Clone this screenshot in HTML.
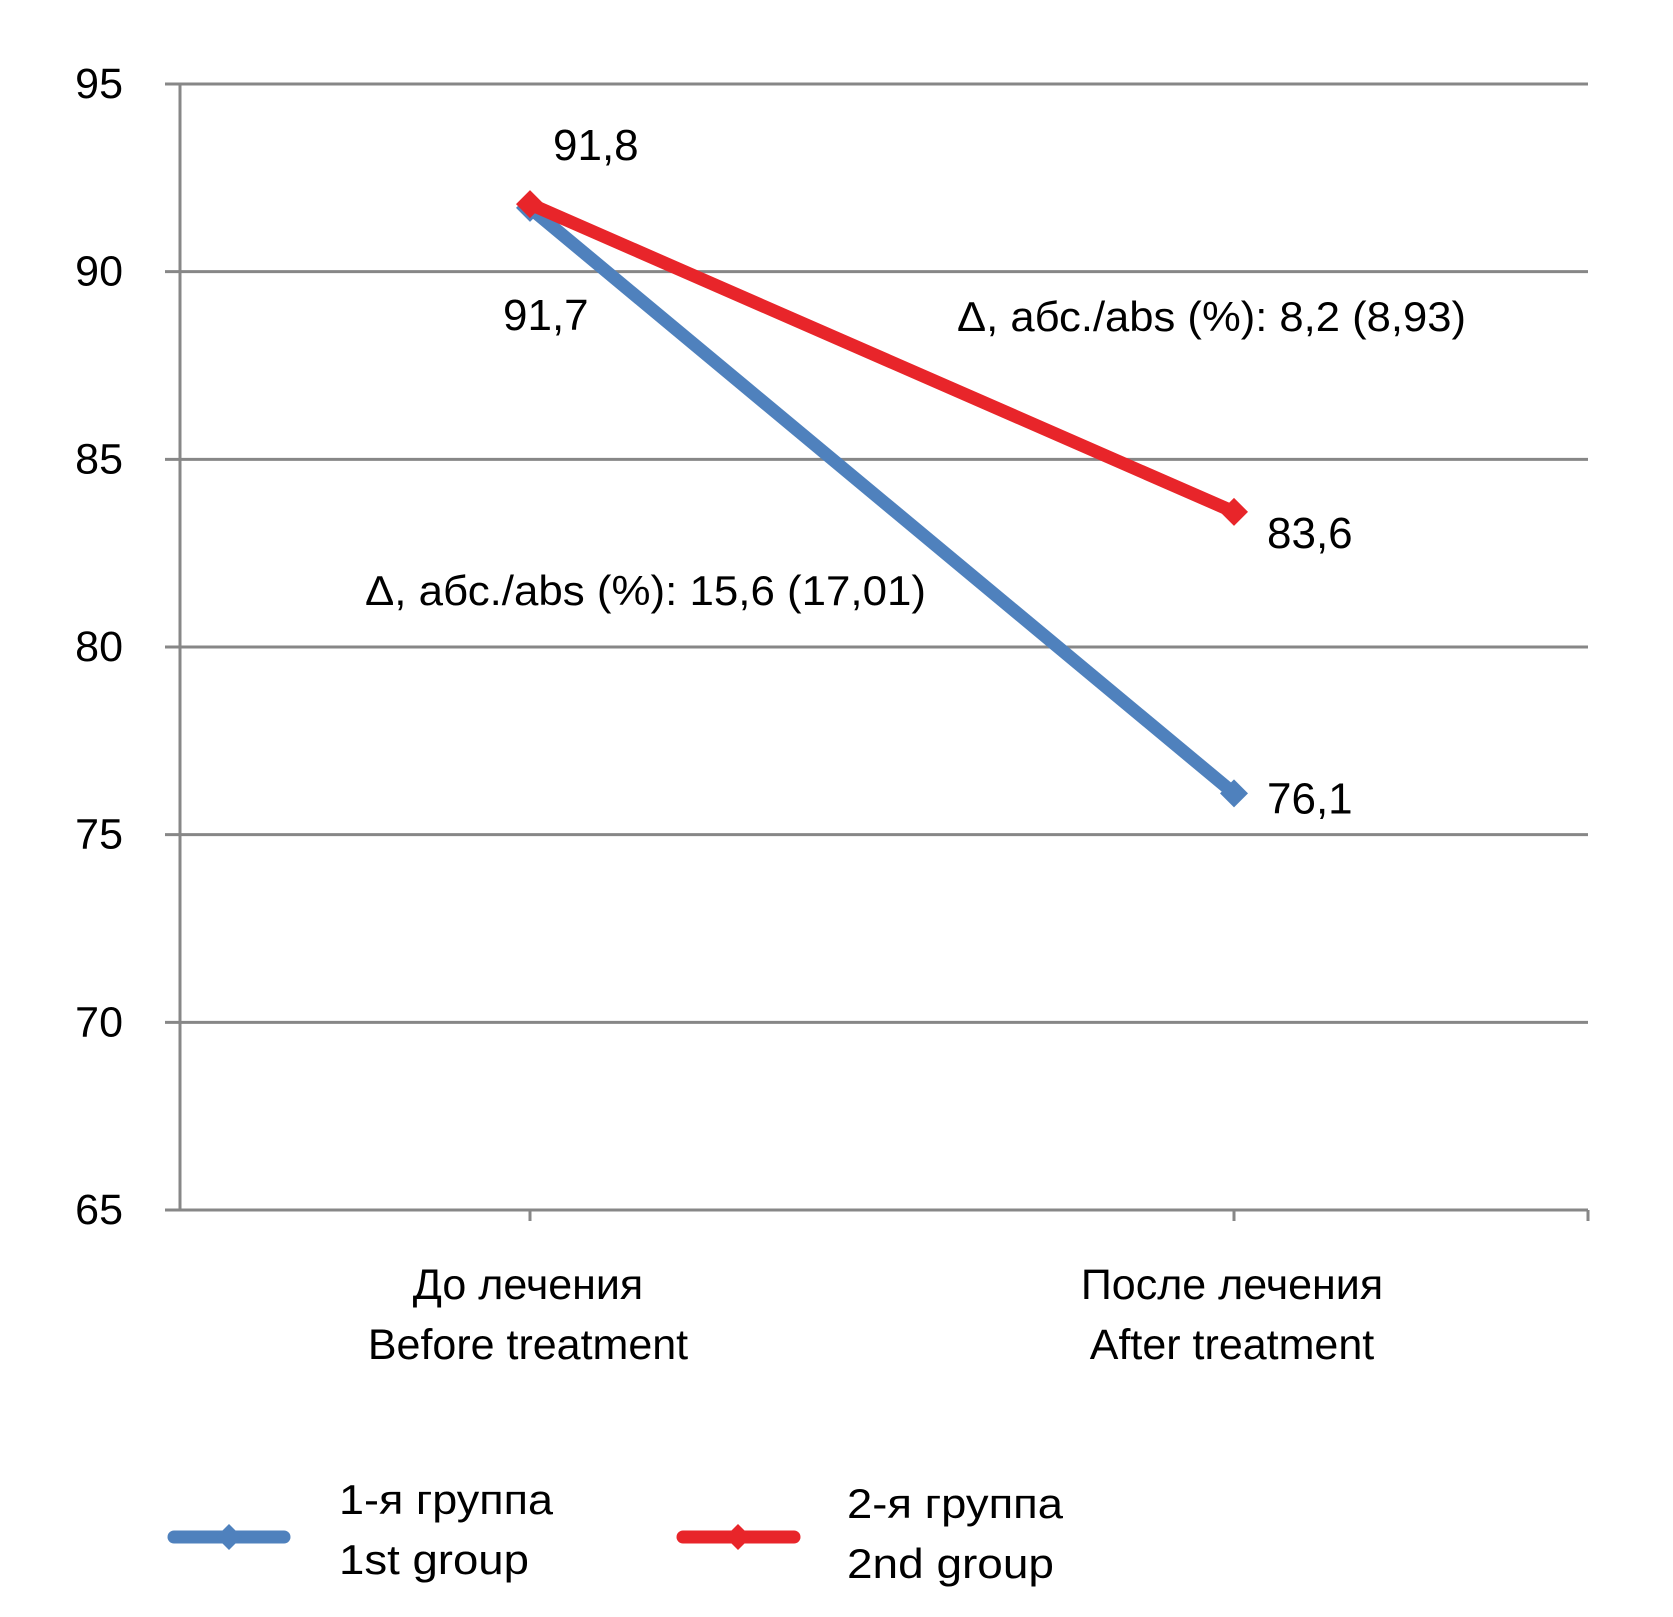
<!DOCTYPE html>
<html><head><meta charset="utf-8">
<style>
html,body{margin:0;padding:0;background:#fff;}
svg{display:block;font-family:"Liberation Sans","DejaVu Sans",sans-serif;}
</style></head>
<body>
<svg id="chart" width="1673" height="1617" viewBox="0 0 1673 1617" xmlns="http://www.w3.org/2000/svg">
<g id="grid"></g>
<g id="yticks"></g>
<g id="xaxis"></g>
<g id="series"></g>
<g id="labels"></g>
<text x="957" y="331" font-size="42" textLength="509" lengthAdjust="spacingAndGlyphs">Δ, абс./abs (%): 8,2 (8,93)</text>
<text x="365" y="605" font-size="42" textLength="561" lengthAdjust="spacingAndGlyphs">Δ, абс./abs (%): 15,6 (17,01)</text>
<g>
  <g>
    <line x1="174" y1="1537" x2="284" y2="1537" stroke="#4f81bd" stroke-width="13" stroke-linecap="round"/>
    <polygon points="229,1524 242,1537 229,1550 216,1537" fill="#4f81bd"/>
    <text x="339" y="1514" font-size="42" textLength="214" lengthAdjust="spacingAndGlyphs">1-я группа</text>
    <text x="339" y="1574" font-size="42" textLength="190" lengthAdjust="spacingAndGlyphs">1st group</text>
  </g>
  <g>
    <line x1="683" y1="1537" x2="794" y2="1537" stroke="#e8252a" stroke-width="13" stroke-linecap="round"/>
    <polygon points="738,1524 751,1537 738,1550 725,1537" fill="#e8252a"/>
    <text x="847" y="1518" font-size="42" textLength="216" lengthAdjust="spacingAndGlyphs">2-я группа</text>
    <text x="847" y="1578" font-size="42" textLength="207" lengthAdjust="spacingAndGlyphs">2nd group</text>
  </g>
</g>
</svg>
<script>
const categoriesRu = ["До лечения", "После лечения"];
const categoriesEn = ["Before treatment", "After treatment"];
const group1 = [91.7, 76.1];
const group2 = [91.8, 83.6];
const group1Labels = ["91,7", "76,1"];
const group2Labels = ["91,8", "83,6"];
const yTicks = [65, 70, 75, 80, 85, 90, 95];

const NS = "http://www.w3.org/2000/svg";
const X0 = 180, X1 = 1588, Y0 = 1210, Y1 = 84, YMIN = 65, YMAX = 95;
function yScale(v){ return Y0 - (v - YMIN) / (YMAX - YMIN) * (Y0 - Y1); }
function xScale(i){ const w = (X1 - X0) / categoriesRu.length; return X0 + w * (i + 0.5) - 2; }
function mk(tag, attrs, parent){ const e = document.createElementNS(NS, tag); for (const k in attrs) e.setAttribute(k, attrs[k]); parent.appendChild(e); return e; }

const grid = document.getElementById('grid');
const yt = document.getElementById('yticks');
yTicks.forEach(v => {
  const y = yScale(v);
  const l = mk('line', {x1:165, x2:X1, y1:y, y2:y, stroke:'#878787', 'stroke-width':3}, grid);
  
  
  const t = mk('text', {x:123, y:y+14, 'font-size':43, 'text-anchor':'end'}, yt);
  t.textContent = v;
  
  
});
const xa = document.getElementById('xaxis');
const ya = mk('line', {x1:X0, x2:X0, y1:Y1, y2:Y0, stroke:'#878787', 'stroke-width':3}, xa);


const endTick = mk('line', {x1:X1, x2:X1, y1:Y0, y2:Y0+11, stroke:'#878787', 'stroke-width':3}, xa);


categoriesRu.forEach((c, i) => {
  const x = xScale(i);
  const tk = mk('line', {x1:x, x2:x, y1:Y0, y2:Y0+11, stroke:'#878787', 'stroke-width':3}, xa);
  
  
  const t1 = mk('text', {x:x-2, y:1299, 'font-size':43, 'text-anchor':'middle'}, xa);
  t1.textContent = c;
  
  
  const t2 = mk('text', {x:x-2, y:1359, 'font-size':43, 'text-anchor':'middle'}, xa);
  t2.textContent = categoriesEn[i];
  
  
});
const ser = document.getElementById('series');
function drawSeries(vals, color, name){
  const pts = vals.map((v,i) => xScale(i) + ',' + yScale(v)).join(' ');
  const pl = mk('polyline', {points:pts, fill:'none', stroke:color, 'stroke-width':13, 'stroke-linejoin':'round'}, ser);
  
  
  vals.forEach((v,i) => {
    const x = xScale(i), y = yScale(v), s = 14;
    const m = mk('polygon', {points:`${x},${y-s} ${x+s},${y} ${x},${y+s} ${x-s},${y}`, fill:color}, ser);
    
    
  });
}
drawSeries(group1, '#4f81bd', 'group1');
drawSeries(group2, '#e8252a', 'group2');
const lb = document.getElementById('labels');
function lab(txt, x, y, name){
  const t = mk('text', {x:x, y:y, 'font-size':44}, lb);
  t.textContent = txt;
  
  
}
lab(group2Labels[0], xScale(0)+23, yScale(group2[0])-44, 'label-group2-before');
lab(group1Labels[0], xScale(0)-27, yScale(group1[0])+122, 'label-group1-before');
lab(group2Labels[1], xScale(1)+33, yScale(group2[1])+36, 'label-group2-after');
lab(group1Labels[1], xScale(1)+33, yScale(group1[1])+20, 'label-group1-after');
</script>
</body></html>
